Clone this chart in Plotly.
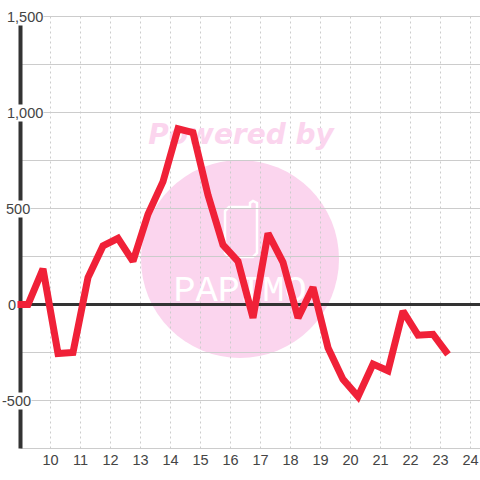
import plotly.graph_objects as go

hours = [8.9, 9.25, 9.75, 10.25, 10.75, 11.25, 11.75, 12.25, 12.75, 13.25, 13.75, 14.25, 14.75, 15.25,
         15.75, 16.25, 16.75, 17.25, 17.75, 18.25, 18.75, 19.25, 19.75, 20.25, 20.75, 21.25, 21.75,
         22.25, 22.75, 23.25]
values = [0, 0, 185, -255, -250, 140, 305, 345, 225, 470, 640, 915, 895, 570,
          310, 225, -70, 370, 220, -70, 90, -225, -390, -480, -310, -345, -35,
          -160, -155, -260]
x_ticks = list(range(10, 25))
y_ticks = [1500, 1000, 500, 0, -500]
y_labels = ["1,500", "1,000", "500", "0", "-500"]
y_minor = [1250, 750, 250, -250, -750]

W = H = 480
T, B = 16, 449
PX_PER_HOUR = 30
PX_PER_UNIT = 96 / 500
X0 = 10 - 50.5 / PX_PER_HOUR
X1 = X0 + W / PX_PER_HOUR
Y1 = 1500 + 0.5 / PX_PER_UNIT
Y0 = Y1 - (B - T) / PX_PER_UNIT
AXIS_X, GRID_TOP, GRID_BOTTOM = 9.0, 1500, -750
GRID = "#cccccc"
DARK = "#333333"
PINK = "#fbd5ee"
RED = "#f02138"
FONT = "Liberation Sans"


def xd(px):
    return X0 + px / PX_PER_HOUR


def yd(py):
    return Y1 - (py - T) / PX_PER_UNIT


shapes = [dict(type="circle", layer="below", xref="x", yref="y", x0=xd(141), x1=xd(339),
               y0=yd(358), y1=yd(160), fillcolor=PINK, line_width=0)]
# phone-shaped logo outline in the watermark
pts = [(229, 207), (250, 207), (250, 203), (253, 201), (257, 203), (257, 253), (253, 257), (229, 257),
       (225, 253), (225, 211)]
path = "M" + " L".join(f"{xd(a):.4f},{yd(b):.2f}" for a, b in pts) + " Z"
shapes.append(dict(type="path", layer="below", xref="x", yref="y", path=path,
                   line=dict(color="white", width=2.5), fillcolor="rgba(0,0,0,0)"))
for v in y_minor + y_ticks:
    if v == 0:
        continue
    shapes.append(dict(type="line", layer="below", xref="x", yref="y", x0=AXIS_X, x1=X1, y0=v, y1=v,
                       line=dict(color=GRID, width=1)))
for t in x_ticks:
    shapes.append(dict(type="line", layer="below", xref="x", yref="y", x0=t, x1=t, y0=GRID_BOTTOM, y1=GRID_TOP,
                       line=dict(color=GRID, width=1, dash="2px 3px")))
shapes.append(dict(type="line", layer="between", xref="x", yref="y", x0=AXIS_X, x1=X1, y0=0, y1=0,
                   line=dict(color=DARK, width=3)))
shapes.append(dict(type="line", layer="between", xref="x", yref="y", x0=AXIS_X, x1=AXIS_X,
                   y0=GRID_BOTTOM, y1=GRID_TOP, line=dict(color=DARK, width=4)))

annotations = []
# label centres in pixels; each label masks the axis line behind it
label_px = [24.5, 24.5, 18, 12, 16.5]
for v, s, px in zip(y_ticks, y_labels, label_px):
    annotations.append(dict(x=px / W, y=v, xref="paper", yref="y", text=s, showarrow=False,
                            xanchor="center", yanchor="middle", bgcolor="white", borderpad=0,
                            font=dict(family=FONT, size=14.5, color="#444444")))

fig = go.Figure()
fig.add_trace(go.Scatter(x=[xd(241)], y=[yd(137)], mode="text", text=["Powered by"], hoverinfo="skip",
                         textposition="middle center", cliponaxis=False,
                         textfont=dict(family="DejaVu Sans", size=28, color=PINK, weight="bold", style="italic")))
fig.add_trace(go.Scatter(x=[xd(240)], y=[yd(292)], mode="text", text=["PAPIMO"], hoverinfo="skip",
                         textposition="middle center",
                         textfont=dict(family="Liberation Mono", size=37, color="white")))
fig.add_trace(go.Scatter(x=hours, y=values, mode="lines", hoverinfo="skip",
                         line=dict(color=RED, width=7, shape="linear")))

fig.update_layout(
    width=W, height=H, autosize=False, showlegend=False,
    margin=dict(l=0, r=0, t=T, b=H - B),
    paper_bgcolor="white", plot_bgcolor="rgba(0,0,0,0)",
    shapes=shapes, annotations=annotations,
    xaxis=dict(range=[X0, X1], tickmode="array", tickvals=x_ticks, ticktext=[str(t) for t in x_ticks],
               showgrid=False, zeroline=False, showline=False, ticks="", ticklen=0,
               tickfont=dict(family=FONT, size=14.5, color="#444444")),
    yaxis=dict(range=[Y0, Y1], showgrid=False, zeroline=False, showline=False, showticklabels=False, ticks=""),
)
fig.write_html(
    "out.html",
    config={"displayModeBar": False},
    post_script=(
        "document.body.style.margin='0';document.body.style.overflow='hidden';"
        "document.querySelectorAll('.js-line').forEach(function(e){"
        "e.style.setProperty('stroke-linejoin','miter','important');"
        "e.style.setProperty('stroke-miterlimit','2','important');});"
    ),
)
